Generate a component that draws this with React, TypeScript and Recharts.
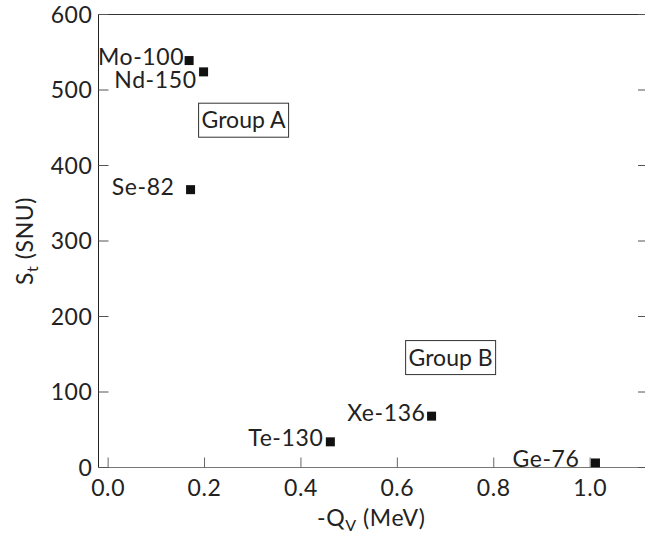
import { ScatterChart, Scatter, XAxis, YAxis, ReferenceDot, Label } from 'recharts';

// isotopes and their values
const isotopes = ['Mo-100', 'Nd-150', 'Se-82', 'Te-130', 'Xe-136', 'Ge-76'];
const qValues = [0.168, 0.198, 0.171, 0.461, 0.671, 1.011];
const stValues = [539, 524, 368, 34, 68, 6];

const xTicks = [0, 0.2, 0.4, 0.6, 0.8, 1.0];
const yTicks = [0, 100, 200, 300, 400, 500, 600];

const groupLabels = ['Group A', 'Group B'];
const groupQ = [0.281, 0.7105];
const groupSt = [460, 145.6];

const data = isotopes.map((name, i) => ({ name, q: qValues[i], st: stValues[i] }));

// where each label sits relative to its marker (text end / baseline)
const labelOffset: Record<string, [number, number]> = {
  'Mo-100': [-5, 4],
  'Nd-150': [-7, 16],
  'Se-82': [-16, 5],
  'Te-130': [-7, 4],
  'Xe-136': [-6, 5],
  'Ge-76': [-16, 4],
};

const FONT = 'Lato, "Open Sans", sans-serif';
const FS = 23;
const LS = 0.6;

const Marker = (props: any) => {
  const { cx, cy, payload } = props;
  const [dx, dy] = labelOffset[payload.name] || [-8, 4];
  return (
    <g>
      <rect x={cx - 4.5} y={cy - 4.5} width={9} height={9} fill="#111" />
      <text
        x={cx + dx}
        y={cy + dy}
        textAnchor="end"
        fontFamily={FONT}
        fontSize={FS}
        fill="#222"
        letterSpacing={LS}
      >
        {payload.name}
      </text>
    </g>
  );
};

const GroupBox = (label: string) => (props: any) => {
  const { cx, cy } = props;
  return (
    <g>
      <rect x={cx - 45} y={cy - 17} width={90} height={34} fill="#fff" stroke="#333" strokeWidth={1} />
      <text x={cx} y={cy + 8} textAnchor="middle" fontFamily={FONT} fontSize={FS} fill="#222">
        {label}
      </text>
    </g>
  );
};

const XTitle = (props: any) => {
  const { viewBox } = props;
  const cx = viewBox.x + viewBox.width / 2 - 2;
  return (
    <text x={cx} y={526} textAnchor="middle" fontFamily={FONT} fontSize={FS} fill="#222" letterSpacing={LS}>
      -Q
      <tspan fontSize={16} dy={5}>V</tspan>
      <tspan dy={-5}> (MeV)</tspan>
    </text>
  );
};

const YTitle = (props: any) => {
  const { viewBox } = props;
  const cy = viewBox.y + viewBox.height / 2;
  return (
    <text
      x={33}
      y={cy}
      transform={`rotate(-90, 33, ${cy})`}
      textAnchor="middle"
      fontFamily={FONT}
      fontSize={FS}
      fill="#222"
      letterSpacing={LS}
    >
      S
      <tspan fontSize={16} dy={5}>t</tspan>
      <tspan dy={-5}> (SNU)</tspan>
    </text>
  );
};

const tickStyle = { fontSize: FS, fontFamily: FONT, fill: '#222', letterSpacing: LS };

export default function App() {
  return (
    <div
      style={{
        position: 'absolute',
        left: 0,
        top: 0,
        width: 645,
        height: 535,
        overflow: 'hidden',
        background: '#fff',
      }}
    >
      <ScatterChart width={650} height={535} margin={{ top: 0.5, right: 0, bottom: 0.5, left: 0.5 }}>
        <XAxis
          xAxisId="bottom"
          type="number"
          dataKey="q"
          domain={[-0.02, 1.12]}
          ticks={xTicks}
          tickFormatter={(v) => v.toFixed(1)}
          height={67}
          tickSize={-10}
          tickMargin={22}
          tick={tickStyle}
          stroke="#777"
          tickLine={{ stroke: '#666' }}
          axisLine={{ stroke: '#777' }}
          allowDataOverflow
        >
          <Label content={<XTitle />} />
        </XAxis>
        <XAxis
          xAxisId="top"
          orientation="top"
          type="number"
          domain={[-0.02, 1.12]}
          ticks={xTicks}
          tickFormatter={() => ''}
          height={14}
          tickSize={-10}
          tickLine={{ stroke: '#555' }}
          axisLine={{ stroke: '#333' }}
          allowDataOverflow
        />
        <YAxis
          yAxisId="left"
          type="number"
          dataKey="st"
          domain={[0, 600]}
          ticks={yTicks}
          width={98}
          tickSize={-10}
          tickMargin={16}
          tick={tickStyle}
          tickLine={{ stroke: '#555' }}
          axisLine={{ stroke: '#222' }}
          allowDataOverflow
        >
          <Label content={<YTitle />} />
        </YAxis>
        <YAxis
          yAxisId="right"
          orientation="right"
          type="number"
          domain={[0, 600]}
          ticks={yTicks}
          tickFormatter={() => ''}
          width={2}
          tickSize={-10}
          tickLine={{ stroke: '#555' }}
          axisLine={{ stroke: '#333' }}
          allowDataOverflow
        />
        <Scatter
          data={data}
          xAxisId="bottom"
          yAxisId="left"
          shape={<Marker />}
          isAnimationActive={false}
        />
        {groupLabels.map((g, i) => (
          <ReferenceDot
            key={g}
            xAxisId="bottom"
            yAxisId="left"
            x={groupQ[i]}
            y={groupSt[i]}
            shape={GroupBox(g)}
          />
        ))}
      </ScatterChart>
    </div>
  );
}
